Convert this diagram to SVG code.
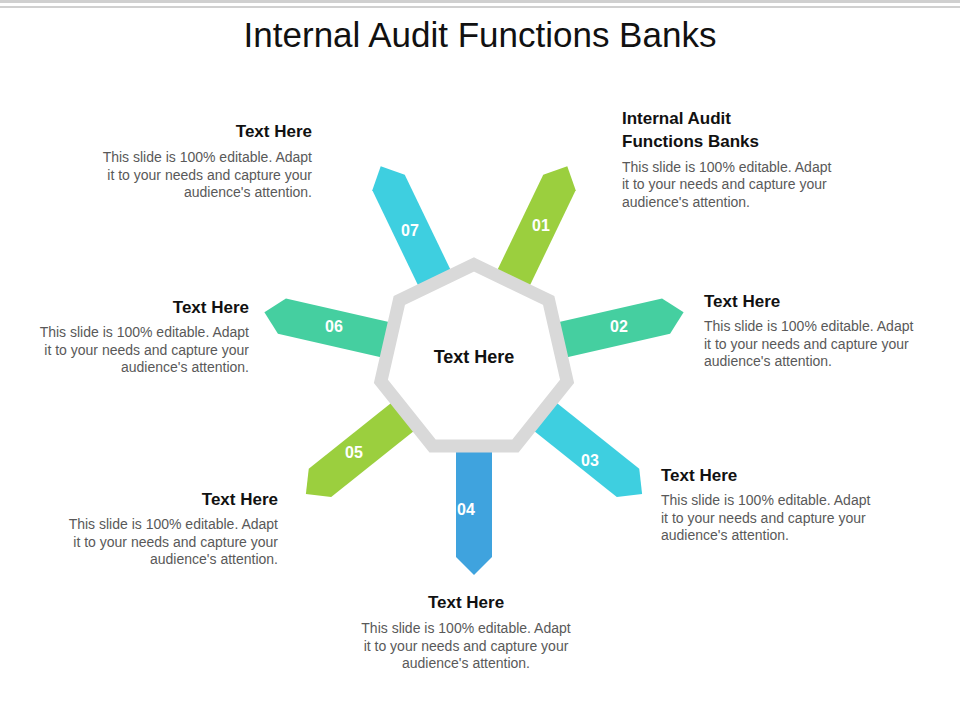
<svg xmlns="http://www.w3.org/2000/svg" width="960" height="720" viewBox="0 0 960 720">
<style>
text{font-family:"Liberation Sans",Arial,sans-serif}
.t{font-size:17px;font-weight:bold;fill:#111}
.b{font-size:14px;fill:#595959}
.n{font-size:16px;font-weight:bold;fill:#fff;text-anchor:middle}
.r{text-anchor:end}.m{text-anchor:middle}
</style>
<defs><polygon id="sp" points="60,-18 197,-18 215,0 197,18 60,18"/></defs>
<rect width="960" height="720" fill="#fff"/>
<rect x="0" y="0" width="960" height="3" fill="#d0d0d0"/>
<rect x="0" y="6" width="960" height="2" fill="#d0d0d0"/>
<text x="480" y="47" class="m" font-size="35" fill="#111">Internal Audit Functions Banks</text>
<g id="connectors">
<use href="#sp" transform="translate(474,360) rotate(-64.29)" fill="#9BCF3E"/>
<use href="#sp" transform="translate(474,360) rotate(-12.86)" fill="#45CFA0"/>
<use href="#sp" transform="translate(474,360) rotate(38.57)" fill="#3ECFE0"/>
<use href="#sp" transform="translate(474,360) rotate(90)" fill="#3FA3DE"/>
<use href="#sp" transform="translate(474,360) rotate(141.43)" fill="#9BCF3E"/>
<use href="#sp" transform="translate(474,360) rotate(192.86)" fill="#45CFA0"/>
<use href="#sp" transform="translate(474,360) rotate(244.29)" fill="#3ECFE0"/>
</g>
<g id="center">
<polygon points="474,264.5 548.7,300.5 567.1,381.3 515.4,446.1 432.6,446.1 380.9,381.3 399.3,300.5" fill="#fff" stroke="#d9d9d9" stroke-width="13" stroke-linejoin="miter"/>
<text x="474" y="363" class="m" font-size="18" font-weight="bold" fill="#111">Text Here</text>
</g>
<g id="n01"><text x="541" y="231" class="n">01</text>
<text x="622" y="124" class="t">Internal Audit</text><text x="622" y="147" class="t">Functions Banks</text>
<text class="b" x="622"><tspan x="622" y="172">This slide is 100% editable. Adapt</tspan><tspan x="622" y="189">it to your needs and capture your</tspan><tspan x="622" y="207">audience's attention.</tspan></text></g>
<g id="n02"><text x="619" y="332" class="n">02</text>
<text x="704" y="307" class="t">Text Here</text>
<text class="b"><tspan x="704" y="331">This slide is 100% editable. Adapt</tspan><tspan x="704" y="349">it to your needs and capture your</tspan><tspan x="704" y="366">audience's attention.</tspan></text></g>
<g id="n03"><text x="590" y="466" class="n">03</text>
<text x="661" y="481" class="t">Text Here</text>
<text class="b"><tspan x="661" y="505">This slide is 100% editable. Adapt</tspan><tspan x="661" y="523">it to your needs and capture your</tspan><tspan x="661" y="540">audience's attention.</tspan></text></g>
<g id="n04"><text x="466" y="515" class="n">04</text>
<text x="466" y="608" class="t m">Text Here</text>
<text class="b m"><tspan x="466" y="633">This slide is 100% editable. Adapt</tspan><tspan x="466" y="651">it to your needs and capture your</tspan><tspan x="466" y="668">audience's attention.</tspan></text></g>
<g id="n05"><text x="354" y="458" class="n">05</text>
<text x="278" y="505" class="t r">Text Here</text>
<text class="b r"><tspan x="278" y="529">This slide is 100% editable. Adapt</tspan><tspan x="278" y="547">it to your needs and capture your</tspan><tspan x="278" y="564">audience's attention.</tspan></text></g>
<g id="n06"><text x="334" y="332" class="n">06</text>
<text x="249" y="313" class="t r">Text Here</text>
<text class="b r"><tspan x="249" y="337">This slide is 100% editable. Adapt</tspan><tspan x="249" y="355">it to your needs and capture your</tspan><tspan x="249" y="372">audience's attention.</tspan></text></g>
<g id="n07"><text x="410" y="236" class="n">07</text>
<text x="312" y="137" class="t r">Text Here</text>
<text class="b r"><tspan x="312" y="162">This slide is 100% editable. Adapt</tspan><tspan x="312" y="180">it to your needs and capture your</tspan><tspan x="312" y="197">audience's attention.</tspan></text></g>
</svg>
